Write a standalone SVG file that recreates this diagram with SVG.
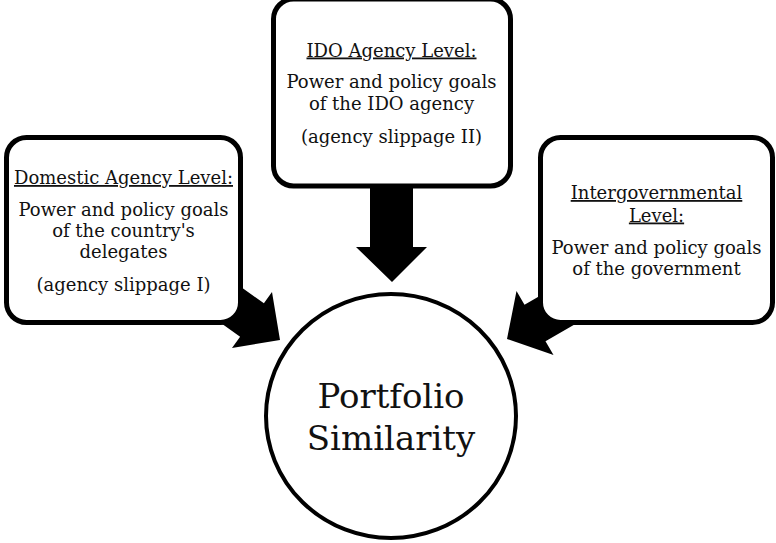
<svg xmlns="http://www.w3.org/2000/svg" width="776" height="543" viewBox="0 0 776 543">
  <style>
    .box { fill: #ffffff; stroke: #000000; stroke-width: 5; }
    .arrow { fill: #000000; stroke: none; }
    .txt { font-family: "DejaVu Serif", "Liberation Serif", serif; font-size: 18px; fill: #111111; text-anchor: middle; }
    .head { text-decoration: underline; }
    .big { font-family: "DejaVu Serif", "Liberation Serif", serif; font-size: 34px; fill: #111111; text-anchor: middle; }
  </style>
  <rect width="776" height="543" fill="#ffffff"/>

  <!-- block arrows (drawn first so the boxes cover their tails) -->
  <g id="connectors">
    <polygon class="arrow" points="392,282 356,247 370,247 370,170 413,170 413,247 427,247"/>
    <polygon class="arrow" points="280,340 232,348 240.1,336.7 175,290.2 198.8,256.8 263.9,303.3 272,292"/>
    <polygon class="arrow" points="507,339 516.5,291 524.5,304.8 593.8,264.8 614.8,301.2 545.5,341.2 553.5,355"/>
  </g>

  <g id="domestic">
    <rect class="box" x="6.5" y="137.5" width="234" height="185" rx="20"/>
    <text class="txt head" x="123.5" y="184">Domestic Agency Level:</text>
    <text class="txt" x="123.5" y="216">Power and policy goals</text>
    <text class="txt" x="123.5" y="237">of the country's</text>
    <text class="txt" x="123.5" y="258">delegates</text>
    <text class="txt" x="123.5" y="291">(agency slippage I)</text>
  </g>

  <g id="ido">
    <rect class="box" x="273.5" y="-1" width="237" height="187" rx="20"/>
    <text class="txt head" x="391.5" y="56.5">IDO Agency Level:</text>
    <text class="txt" x="391.5" y="88">Power and policy goals</text>
    <text class="txt" x="391.5" y="109.5">of the IDO agency</text>
    <text class="txt" x="391.5" y="143">(agency slippage II)</text>
  </g>

  <g id="intergovernmental">
    <rect class="box" x="540.5" y="137.5" width="232" height="185" rx="20"/>
    <text class="txt head" x="656.5" y="199">Intergovernmental</text>
    <text class="txt head" x="656.5" y="221.5">Level:</text>
    <text class="txt" x="656.5" y="254">Power and policy goals</text>
    <text class="txt" x="656.5" y="275">of the government</text>
  </g>

  <g id="portfolio">
    <ellipse cx="391" cy="416" rx="125" ry="122" fill="#ffffff" stroke="#000000" stroke-width="4"/>
    <text class="big" x="391" y="408">Portfolio</text>
    <text class="big" x="391" y="450">Similarity</text>
  </g>
</svg>
